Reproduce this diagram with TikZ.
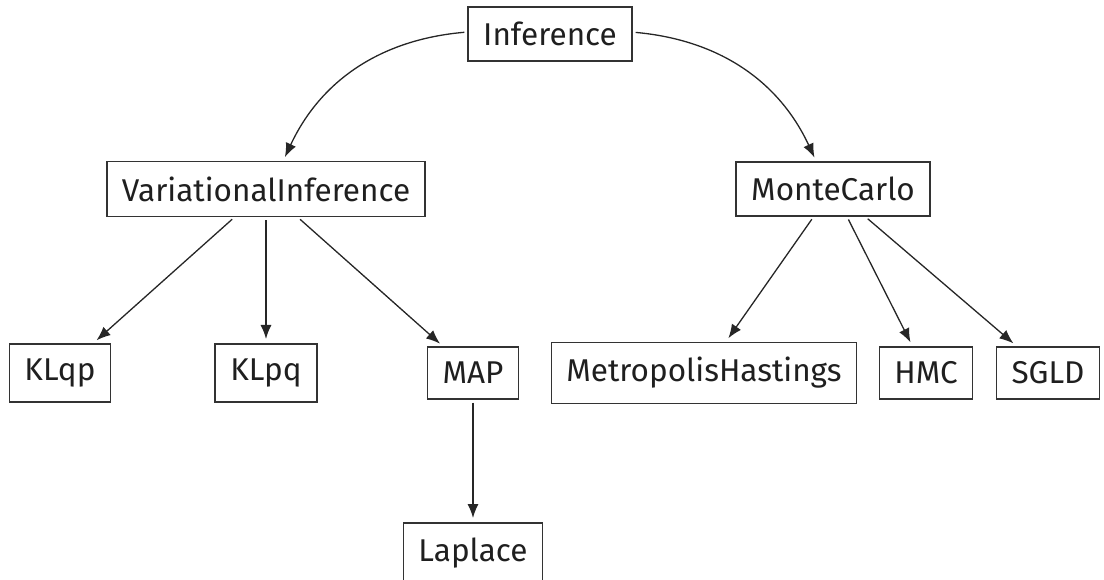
\documentclass[tikz,border=0pt]{standalone}
\usepackage{fontspec}
\setmainfont{Fira Sans}
\usetikzlibrary{arrows.meta}
\begin{document}
\begin{tikzpicture}[x=1pt,y=1pt,
  box/.style={draw=black!80, line width=1.6pt, inner sep=15pt, text=black!88,
    font=\fontsize{31.5}{37}\selectfont},
  link/.style={-{Latex[length=14pt,width=11pt]}, line width=1.3pt, draw=black!85,
    shorten >=4pt, shorten <=3pt}]
\useasboundingbox (0,0) rectangle (1104,579);
% root
\node[box] (inf) at (550,545) {Inference};
% families
\node[box] (vi) at (266,390) {VariationalInference};
\node[box] (mc) at (833,390) {MonteCarlo};
% methods
\node[box] (klqp) at (60,206) {KLqp};
\node[box] (klpq) at (266,206) {KLpq};
\node[box] (map) at (473,206) {MAP};
\node[box] (mh) at (704,206) {MetropolisHastings};
\node[box] (hmc) at (926,206) {HMC};
\node[box] (sgld) at (1048,206) {SGLD};
\node[box] (lap) at (473,26) {Laplace};
% edges
\draw[link] (inf) to[bend right] (vi);
\draw[link] (inf) to[bend left] (mc);
\draw[link] (vi) -- (klqp);
\draw[link] (vi) -- (klpq);
\draw[link] (vi) -- (map);
\draw[link] (mc) -- (mh);
\draw[link] (mc) -- (hmc);
\draw[link] (mc) -- (sgld);
\draw[link] (map) -- (lap);
\end{tikzpicture}
\end{document}
